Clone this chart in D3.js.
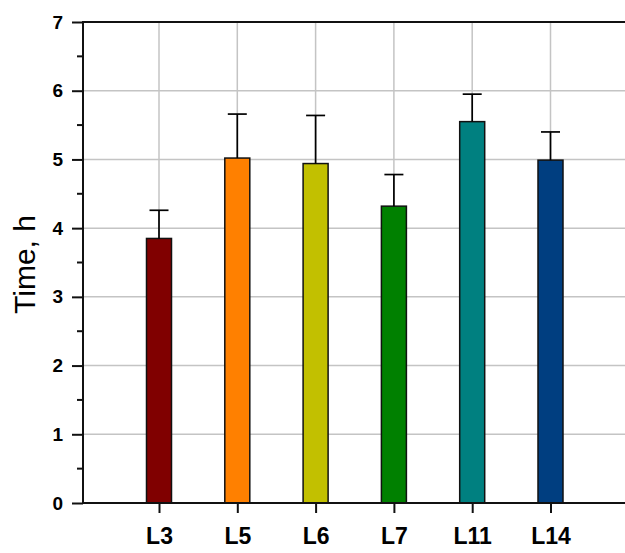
<!DOCTYPE html>
<html>
<head>
<meta charset="utf-8">
<script src="https://cdn.jsdelivr.net/npm/d3@7"></script>
<style>
  html, body { margin: 0; padding: 0; background: #fff; }
  svg { display: block; }
  text { font-family: "Liberation Sans", Arial, sans-serif; fill: #000; }
</style>
</head>
<body>
<svg id="chart" width="625" height="553"></svg>
<script>
// Mean time per line, with the upper error (standard deviation)
const categories = ["L3", "L5", "L6", "L7", "L11", "L14"];
const meanTime   = [3.85, 5.02, 4.94, 4.32, 5.55, 4.99];
const errorTime  = [0.41, 0.64, 0.70, 0.46, 0.40, 0.41];
const barColors  = ["#800000", "#ff8000", "#c2c000", "#008000", "#008080", "#003e80"];
const yTicks     = [0, 1, 2, 3, 4, 5, 6, 7];
const yMinorTicks = [0.5, 1.5, 2.5, 3.5, 4.5, 5.5, 6.5];

const plotLeft = 83, plotTop = 22, plotBottom = 503, plotRight = 640;

const svg = d3.select("#chart");

const y = d3.scaleLinear().domain([0, 7]).range([plotBottom, plotTop]);
// categories sit at positions 1..6 on a 0..7 axis
const x = d3.scaleLinear().domain([0, 7]).range([80.7, 628.8]);
const pos = (d, i) => x(i + 1);
const barW = 25;
const capW = 19;

// grid
const grid = svg.append("g").attr("stroke", "#c4c4c4").attr("stroke-width", 1.5);
grid.selectAll("line.h").data(yTicks.filter(t => t > 0 && t < 7)).join("line")
  .attr("x1", plotLeft).attr("x2", plotRight)
  .attr("y1", d => y(d)).attr("y2", d => y(d));
grid.selectAll("line.v").data(categories).join("line")
  .attr("x1", pos).attr("x2", pos)
  .attr("y1", plotTop).attr("y2", plotBottom);

// bars
svg.append("g").selectAll("rect").data(meanTime).join("rect")
  .attr("x", (d, i) => pos(d, i) - barW / 2)
  .attr("width", barW)
  .attr("y", d => y(d))
  .attr("height", d => y(0) - y(d))
  .attr("fill", (d, i) => barColors[i])
  .attr("stroke", "#111")
  .attr("stroke-width", 1.5);

// upper error bars
const err = svg.append("g").attr("stroke", "#000").attr("stroke-width", 1.7);
err.selectAll("line.stem").data(meanTime).join("line")
  .attr("x1", pos).attr("x2", pos)
  .attr("y1", d => y(d))
  .attr("y2", (d, i) => y(d + errorTime[i]));
err.selectAll("line.cap").data(meanTime).join("line")
  .attr("x1", (d, i) => pos(d, i) - capW / 2)
  .attr("x2", (d, i) => pos(d, i) + capW / 2)
  .attr("y1", (d, i) => y(d + errorTime[i]))
  .attr("y2", (d, i) => y(d + errorTime[i]));

// y axis
const yAxis = svg.append("g").attr("transform", `translate(${plotLeft},0)`)
  .call(d3.axisLeft(y).tickValues(yTicks).tickFormat(d3.format("d"))
    .tickSize(11).tickPadding(9));
yAxis.select(".domain").remove();
yAxis.selectAll(".tick line").attr("stroke", "#111").attr("stroke-width", 2);
yAxis.selectAll(".tick text")
  .style("font-size", "19px").style("font-weight", "bold")
  .style("font-family", "'Liberation Sans', Arial, sans-serif");
svg.append("g").selectAll("line").data(yMinorTicks).join("line")
  .attr("x1", plotLeft - 6).attr("x2", plotLeft)
  .attr("y1", d => y(d)).attr("y2", d => y(d))
  .attr("stroke", "#111").attr("stroke-width", 2);

// x axis
const xAxis = svg.append("g").attr("transform", `translate(0,${plotBottom})`)
  .call(d3.axisBottom(x).tickValues(d3.range(1, categories.length + 1))
    .tickFormat(d => categories[d - 1]).tickSize(10).tickPadding(15));
xAxis.select(".domain").remove();
xAxis.selectAll(".tick line").attr("stroke", "#111").attr("stroke-width", 2);
xAxis.selectAll(".tick text")
  .style("font-size", "23px").style("font-weight", "bold")
  .style("font-family", "'Liberation Sans', Arial, sans-serif");

// frame: left, bottom and top lines
const frame = svg.append("g").attr("stroke", "#111").attr("stroke-width", 2);
frame.append("line").attr("x1", plotLeft).attr("x2", plotLeft).attr("y1", plotTop - 1).attr("y2", plotBottom + 1);
frame.append("line").attr("x1", plotLeft - 1).attr("x2", plotRight).attr("y1", plotBottom).attr("y2", plotBottom);
frame.append("line").attr("x1", plotLeft - 1).attr("x2", plotRight).attr("y1", plotTop).attr("y2", plotTop);

// y title
svg.append("text")
  .attr("transform", `translate(35,${(plotTop + plotBottom) / 2 + 2}) rotate(-90)`)
  .attr("text-anchor", "middle")
  .style("font-size", "30px")
  .text("Time, h");
</script>
</body>
</html>
